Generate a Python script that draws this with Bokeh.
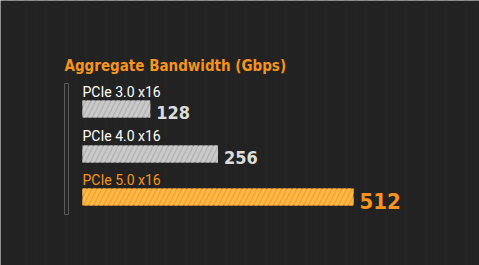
from bokeh.plotting import figure
from bokeh.models import Range1d, ColumnDataSource
from bokeh.core.properties import value
from bokeh.embed import file_html
from bokeh.resources import INLINE

title = "Aggregate Bandwidth (Gbps)"
categories = ["PCIe 3.0 x16", "PCIe 4.0 x16", "PCIe 5.0 x16"]
bandwidth = [128, 256, 512]
highlight = [False, False, True]

W, H = 479, 265
scale = 271 / 512  # px per Gbps
x0 = 82
NARROW = value("DejaVu Sans Condensed")
p = figure(width=W, height=H, output_backend="svg", toolbar_location=None,
           x_range=Range1d(-x0 / scale, (W - x0) / scale),
           y_range=Range1d(H, 0), min_border=0)
p.axis.visible = False
p.grid.visible = False
p.outline_line_color = None
p.background_fill_color = "#222222"
p.border_fill_color = "#222222"

# subtle vertical texture
p.quad(left=-x0 / scale, right=(W - x0) / scale, bottom=H, top=0,
       fill_alpha=0, line_color=None, hatch_pattern="|", hatch_color="#262626",
       hatch_scale=10, hatch_weight=3, hatch_alpha=0.5)

# title
p.text(x=[(64 - x0) / scale], y=[65], text=[title], text_color="#f7931e",
       text_font=NARROW, text_font_style="bold",
       text_font_size="15px", text_baseline="alphabetic")

# bracket
p.quad(left=[(64 - x0) / scale], right=[(68 - x0) / scale], top=[83], bottom=[214],
       fill_color=None, line_color="#5a5a5a", line_width=1)

bar_top = [100, 145, 188]
bar_h = 17
label_base = [91, 135, 179]
src = ColumnDataSource(dict(
    left=[0] * 3, right=bandwidth,
    top=bar_top, bottom=[t + bar_h for t in bar_top],
    fill=["#f9a21e" if h else "#b3b3b3" for h in highlight],
    hatch=["#fdb850" if h else "#cacaca" for h in highlight],
))
p.quad(left="left", right="right", top="top", bottom="bottom", source=src,
       fill_color="fill", line_color=None, hatch_pattern="/",
       hatch_color="hatch", hatch_scale=10, hatch_weight=3)

for i, (c, v, h) in enumerate(zip(categories, bandwidth, highlight)):
    col = "#f7931e" if h else "#ffffff"
    p.text(x=[0], y=[label_base[i]], text=[c], text_color=col,
           text_font=value("Roboto"), text_font_size="14px",
           text_baseline="alphabetic")
    vcol = "#f7931e" if h else "#dcdcdc"
    p.text(x=[v], y=[bar_top[i] + bar_h - 5], x_offset=6,
           text=[str(v)], text_color=vcol,
           text_font=NARROW, text_font_style="bold",
           text_font_size="22px" if h else "18px", text_baseline="alphabetic")

open("out.html", "w").write(file_html(p, INLINE))
